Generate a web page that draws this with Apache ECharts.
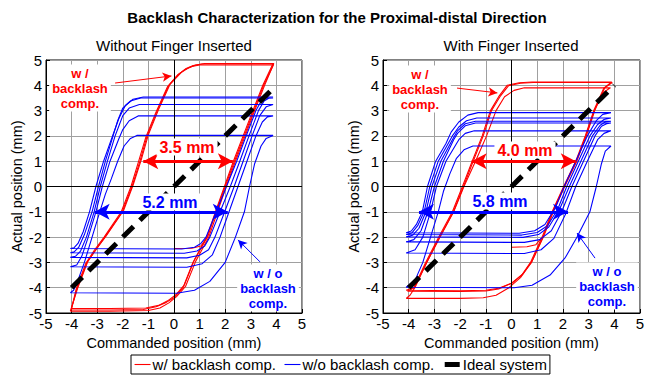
<!DOCTYPE html>
<html>
<head>
<meta charset="utf-8">
<script src="https://cdn.jsdelivr.net/npm/echarts@6/dist/echarts.min.js"></script>
<style>
  html, body { margin: 0; padding: 0; background: #fff; }
  #chart { width: 652px; height: 379px; }
</style>
</head>
<body>
<div id="chart"></div>
<script>
const FONT = '"Liberation Sans", Arial, sans-serif';
const RED = '#ff0000';
const BLUE = '#0000ff';
const NAME_RED = 'w/ backlash comp.';
const NAME_BLUE = 'w/o backlash comp.';
const NAME_IDEAL = 'Ideal system';

// ---- Without finger inserted (left) ----
const leftRedStart = [[0,-2.45],[0.7,-2.44],[1.05,-2.35],[1.3,-2.0]];
const leftRed1 = [[-4.02,-4.88],[-2.5,-4.88],[-1.2,-4.86],[-0.7,-4.75],[-0.3,-4.58],[0,-4.4],[0.35,-4.0],[0.74,-3.0],[1.28,-2.0],[1.62,-1.0],[1.97,0],[2.32,1],[2.7,2],[3.08,3],[3.47,4],[3.86,4.84],[2,4.84],[1.1,4.84],[0.75,4.78],[0.45,4.65],[0.2,4.45],[-0.2,4.0],[-0.65,3.0],[-1.05,2.0],[-1.33,1.0],[-1.64,0],[-2.02,-1.0],[-2.7,-2.0],[-3.05,-2.5],[-3.4,-3.0],[-3.78,-4.0],[-4.02,-4.88]];
const leftRed2 = [[-4.0,-4.82],[-2.5,-4.82],[-1.1,-4.8],[-0.6,-4.7],[-0.25,-4.52],[0.05,-4.3],[0.4,-3.9],[0.8,-2.9],[1.33,-1.95],[1.66,-0.95],[2.0,0],[2.36,1],[2.74,2],[3.12,3],[3.5,4],[3.88,4.8],[2,4.8],[1.0,4.8],[0.7,4.74],[0.4,4.6],[0.15,4.42],[-0.25,3.95],[-0.7,2.95],[-1.1,1.95],[-1.38,1.0],[-1.68,0],[-2.06,-1.0],[-2.73,-2.0],[-3.1,-2.5],[-3.45,-3.05],[-3.82,-4.05],[-4.0,-4.82]];
const leftRed3 = [[-4.05,-4.93],[-2.5,-4.93],[-1.0,-4.9],[-0.55,-4.8],[-0.2,-4.6],[0.1,-4.35],[0.45,-3.95],[0.85,-2.95],[1.36,-2.0],[1.7,-1.0],[2.04,0],[2.4,1],[2.78,2],[3.15,3],[3.54,4],[3.9,4.86],[2,4.86],[1.2,4.86],[0.85,4.8],[0.55,4.68],[0.28,4.5],[-0.15,4.05],[-0.6,3.05],[-1.0,2.05],[-1.28,1.05],[-1.6,0.05],[-1.97,-0.95],[-2.65,-1.95],[-3.02,-2.45],[-3.36,-2.95],[-3.74,-3.95],[-4.05,-4.93]];
const leftBlue1 = [[-4.05,-2.45],[-2,-2.46],[0.3,-2.47],[0.8,-2.4],[1.05,-2.25],[1.25,-2.0],[1.65,-1.0],[2.05,0],[2.45,1],[2.82,2],[3.2,3],[3.42,3.4],[3.62,3.53],[3.87,3.54],[1,3.54],[-1.2,3.54],[-1.6,3.45],[-1.9,3.2],[-2.15,2.7],[-2.4,2.0],[-2.75,1],[-3.05,0],[-3.3,-1],[-3.55,-1.8],[-3.75,-2.25],[-3.9,-2.42],[-4.05,-2.45]];
const leftBlue2 = [[-4.05,-2.62],[-2,-2.63],[0.4,-2.64],[0.9,-2.55],[1.2,-2.35],[1.4,-2.0],[1.8,-1],[2.2,0],[2.57,1],[2.93,2],[3.3,3],[3.52,3.38],[3.7,3.49],[3.87,3.5],[1,3.5],[-1.3,3.5],[-1.7,3.38],[-2.0,3.1],[-2.2,2.6],[-2.38,2.0],[-2.68,1],[-2.95,0],[-3.2,-1],[-3.5,-1.9],[-3.72,-2.4],[-3.9,-2.58],[-4.05,-2.62]];
const leftBlue3 = [[-4.05,-2.8],[-2,-2.81],[0.5,-2.82],[1.0,-2.72],[1.35,-2.5],[1.6,-2.0],[1.98,-1],[2.35,0],[2.7,1],[3.05,2],[3.35,2.8],[3.6,3.15],[3.87,3.24],[1,3.24],[-1.35,3.24],[-1.75,3.1],[-2.0,2.8],[-2.15,2.4],[-2.3,2.0],[-2.6,1],[-2.88,0],[-3.12,-1],[-3.42,-2.0],[-3.65,-2.55],[-3.85,-2.76],[-4.05,-2.8]];
const leftBlue4 = [[-4.05,-3.17],[-2,-3.18],[0.5,-3.19],[1.1,-3.05],[1.5,-2.7],[1.8,-2.0],[2.15,-1],[2.5,0],[2.85,1],[3.2,2],[3.45,2.55],[3.65,2.75],[3.87,2.79],[1,2.79],[-1.4,2.79],[-1.75,2.6],[-2.0,2.25],[-2.15,1.9],[-2.5,1],[-2.8,0],[-3.05,-1],[-3.35,-2.0],[-3.6,-2.75],[-3.8,-3.1],[-4.05,-3.17]];
const leftBlue5 = [[-4.05,-4.2],[-2,-4.21],[0.1,-4.22],[0.8,-4.1],[1.4,-3.75],[2.0,-3.0],[2.4,-2.0],[2.75,-1],[2.95,0],[3.15,0.9],[3.4,1.6],[3.6,1.9],[3.87,2.02],[1,2.02],[-1.45,2.02],[-1.7,1.9],[-1.95,1.6],[-2.2,1.0],[-2.45,0.3],[-2.68,-0.3],[-2.9,-1],[-3.2,-2.0],[-3.5,-3.0],[-3.75,-3.7],[-3.92,-4.1],[-4.05,-4.2]];

// ---- With finger inserted (right) ----
const rightRedStart = [[0,-2.4],[0.6,-2.38],[0.95,-2.3],[1.15,-2.05]];
const rightRed1 = [[-4.1,-4.1],[-2,-4.12],[-1.0,-4.1],[-0.5,-4.02],[0,-3.82],[0.4,-3.5],[0.74,-3.0],[1.19,-2.0],[1.58,-1.0],[2.03,0],[2.5,1],[2.87,2],[3.2,3],[3.6,3.9],[3.9,4.13],[2,4.13],[0.8,4.13],[0.3,4.1],[-0.17,4.0],[-0.5,3.55],[-0.82,3.0],[-1.14,2.0],[-1.53,1.0],[-1.91,0],[-2.3,-1.0],[-2.83,-2.0],[-3.34,-3.0],[-3.8,-4.0],[-4.1,-4.1]];
const rightRed2 = [[-4.1,-4.42],[-2,-4.42],[-1.1,-4.4],[-0.6,-4.3],[-0.1,-4.0],[0.35,-3.6],[0.8,-2.95],[1.24,-2.0],[1.63,-1.0],[2.07,0],[2.54,1],[2.91,2],[3.24,3],[3.63,3.9],[3.92,4.11],[2,4.11],[0.85,4.11],[0.35,4.08],[-0.12,3.98],[-0.45,3.55],[-0.78,3.0],[-1.1,2.0],[-1.49,1.0],[-1.87,0],[-2.26,-1.0],[-2.79,-2.0],[-3.3,-3.0],[-3.76,-4.0],[-3.95,-4.3],[-4.1,-4.42]];
const rightRed3 = [[-4.05,-4.14],[-2,-4.15],[-1.0,-4.13],[-0.5,-4.05],[0.05,-3.8],[0.45,-3.45],[0.78,-3.0],[1.22,-2.0],[1.6,-1.0],[2.05,0],[2.52,1],[2.9,2],[3.22,3],[3.55,3.7],[3.85,3.9],[2,3.9],[0.5,3.9],[0.1,3.8],[-0.27,3.55],[-0.6,3.0],[-0.97,2.0],[-1.4,1.0],[-1.85,0],[-2.25,-1.0],[-2.78,-2.0],[-3.3,-3.0],[-3.78,-4.0],[-4.05,-4.14]];
const rightBlue1 = [[-4.1,-1.83],[-2,-1.84],[0.3,-1.85],[0.9,-1.75],[1.3,-1.5],[1.7,-0.85],[2.05,0],[2.5,1],[2.95,2],[3.3,2.6],[3.55,2.85],[3.87,2.92],[1,2.92],[-1.3,2.92],[-1.7,2.82],[-2.05,2.55],[-2.35,2.15],[-2.55,1.7],[-2.95,1],[-3.27,0],[-3.47,-1],[-3.7,-1.5],[-3.9,-1.76],[-4.1,-1.83]];
const rightBlue2 = [[-4.1,-1.9],[-2,-1.91],[0.4,-1.92],[1.0,-1.82],[1.4,-1.55],[1.8,-0.9],[2.15,0],[2.6,1],[3.05,2],[3.35,2.45],[3.6,2.65],[3.87,2.71],[1,2.71],[-1.35,2.71],[-1.75,2.6],[-2.05,2.35],[-2.3,2.0],[-2.85,1],[-3.18,0],[-3.4,-1],[-3.65,-1.55],[-3.88,-1.84],[-4.1,-1.9]];
const rightBlue3 = [[-4.1,-1.99],[-2,-2.0],[0.45,-2.01],[1.05,-1.9],[1.45,-1.6],[1.85,-0.95],[2.25,0],[2.7,1],[3.15,2],[3.45,2.42],[3.65,2.55],[3.87,2.58],[1,2.58],[-1.4,2.58],[-1.8,2.48],[-2.1,2.2],[-2.3,1.85],[-2.75,1],[-3.1,0],[-3.33,-1],[-3.6,-1.65],[-3.85,-1.93],[-4.1,-1.99]];
const rightBlue4 = [[-4.1,-2.19],[-2,-2.2],[0.5,-2.21],[1.1,-2.1],[1.55,-1.75],[1.95,-1.0],[2.35,0],[2.8,1],[3.25,2],[3.5,2.38],[3.7,2.48],[3.87,2.51],[1,2.51],[-1.4,2.51],[-1.8,2.4],[-2.1,2.1],[-2.25,1.85],[-2.65,1],[-3.0,0],[-3.25,-1],[-3.52,-1.75],[-3.8,-2.1],[-4.1,-2.19]];
const rightBlue5 = [[-4.1,-2.63],[-2,-2.64],[0.5,-2.65],[1.15,-2.5],[1.65,-2.05],[2.1,-1.1],[2.5,0],[2.95,1],[3.35,1.85],[3.6,2.1],[3.87,2.2],[1,2.2],[-1.45,2.2],[-1.8,2.1],[-2.05,1.85],[-2.55,1],[-2.92,0],[-3.15,-1],[-3.45,-2.0],[-3.75,-2.5],[-4.1,-2.63]];
const rightBlue6 = [[-4.1,-3.98],[-2,-3.99],[0.1,-4.0],[0.8,-3.9],[1.5,-3.5],[2.1,-2.8],[2.55,-2.0],[3.05,-1.0],[3.3,0],[3.5,0.9],[3.65,1.4],[3.87,1.6],[1,1.6],[-1.5,1.6],[-1.85,1.45],[-2.15,1.1],[-2.4,0.5],[-2.65,-0.2],[-2.85,-1],[-3.15,-2.0],[-3.45,-3.0],[-3.75,-3.7],[-4.1,-3.98]];

// ideal system, same in both panels
const idealLine = [[-4,-4],[4,4]];

// annotation arrows (data units): [from, to]
const leftRedGap = [[-1.2,1],[2.3,1]];
const leftBlueGap = [[-3.1,-1],[2.1,-1]];
const rightRedGap = [[-1.55,1],[2.5,1]];
const rightBlueGap = [[-3.6,-1],[2.2,-1]];
const leftRedPointer = [[-2.3,4.09],[-0.1,4.37]];
const leftBluePointer = [[3.36,-2.98],[2.5,-2.11]];
const rightRedPointer = [[-2.12,3.89],[-0.55,3.70]];
const rightBluePointer = [[3.25,-2.83],[2.55,-1.84]];

const chart = echarts.init(document.getElementById('chart'), null, { renderer: 'svg' });

function loopSeries(data, name, color, gi) {
  return {
    type: 'line', name: name, data: data,
    xAxisIndex: gi, yAxisIndex: gi,
    symbol: 'none', silent: true, z: 2,
    lineStyle: { color: color, width: 1.1 },
    itemStyle: { color: color }
  };
}

function arrowSeries(gi, segs, color, width, symbols, size) {
  return {
    type: 'line', data: [], xAxisIndex: gi, yAxisIndex: gi, silent: true, z: 5,
    markLine: {
      silent: true, animation: false,
      symbol: symbols, symbolSize: size,
      label: { show: false },
      lineStyle: { color: color, width: width, type: 'solid' },
      data: segs.map(s => [{ coord: s[0] }, { coord: s[1] }])
    }
  };
}

function zeroLines(gi) {
  return {
    type: 'line', data: [], xAxisIndex: gi, yAxisIndex: gi, silent: true, z: 1,
    markLine: {
      silent: true, animation: false, symbol: 'none',
      label: { show: false },
      lineStyle: { color: '#000', width: 1, type: 'solid' },
      data: [{ xAxis: 0 }, { yAxis: 0 }]
    }
  };
}

const axisCommon = {
  type: 'value', min: -5, max: 5, interval: 1,
  axisLine: { show: true, onZero: false, lineStyle: { color: '#000', width: 1 } },
  axisTick: { show: true, inside: true, length: 4, lineStyle: { color: '#000' } },
  splitLine: { show: true, lineStyle: { color: '#a0a0a0', width: 1 } },
  axisLabel: { color: '#000', fontSize: 15, fontFamily: FONT },
  nameLocation: 'middle',
  nameTextStyle: { color: '#000', fontSize: 14.5, fontFamily: FONT }
};

function xAx(gi) {
  return Object.assign({}, axisCommon, {
    gridIndex: gi, name: 'Commanded position (mm)', nameGap: 16,
    axisLabel: Object.assign({}, axisCommon.axisLabel, { margin: 3 })
  });
}
function yAx(gi) {
  return Object.assign({}, axisCommon, {
    gridIndex: gi, name: 'Actual position (mm)', nameGap: 22,
    axisLabel: Object.assign({}, axisCommon.axisLabel, { margin: 4 })
  });
}

function txt(x, y, text, color, size, bold, boxed) {
  const style = {
    text: text, fill: color, align: 'center', verticalAlign: 'middle',
    font: (bold ? 'bold ' : '') + size + 'px ' + FONT, lineHeight: 15
  };
  if (boxed) {
    style.backgroundColor = '#fff';
    style.padding = [1, 3, 1, 3];
  }
  return { type: 'text', x: x, y: y, z: 100, silent: true, style: style };
}

const series = [
  zeroLines(0), zeroLines(1),
  loopSeries(leftRedStart, NAME_RED, RED, 0),
  loopSeries(leftRed1, NAME_RED, RED, 0),
  loopSeries(leftRed2, NAME_RED, RED, 0),
  loopSeries(leftRed3, NAME_RED, RED, 0),
  loopSeries(rightRedStart, NAME_RED, RED, 1),
  loopSeries(rightRed1, NAME_RED, RED, 1),
  loopSeries(rightRed2, NAME_RED, RED, 1),
  loopSeries(rightRed3, NAME_RED, RED, 1),
  loopSeries(leftBlue1, NAME_BLUE, BLUE, 0),
  loopSeries(leftBlue2, NAME_BLUE, BLUE, 0),
  loopSeries(leftBlue3, NAME_BLUE, BLUE, 0),
  loopSeries(leftBlue4, NAME_BLUE, BLUE, 0),
  loopSeries(leftBlue5, NAME_BLUE, BLUE, 0),
  loopSeries(rightBlue1, NAME_BLUE, BLUE, 1),
  loopSeries(rightBlue2, NAME_BLUE, BLUE, 1),
  loopSeries(rightBlue3, NAME_BLUE, BLUE, 1),
  loopSeries(rightBlue4, NAME_BLUE, BLUE, 1),
  loopSeries(rightBlue5, NAME_BLUE, BLUE, 1),
  loopSeries(rightBlue6, NAME_BLUE, BLUE, 1)
];
[0, 1].forEach(gi => {
  series.push({
    type: 'line', name: NAME_IDEAL, data: idealLine,
    xAxisIndex: gi, yAxisIndex: gi, symbol: 'none', silent: true, z: 4,
    lineStyle: { color: '#000', width: 5, type: [15, 9] },
    itemStyle: { color: '#000' }
  });
});
series.push(
  arrowSeries(0, [leftRedGap], RED, 3, ['arrow', 'arrow'], [12, 15]),
  arrowSeries(0, [leftBlueGap], BLUE, 3, ['arrow', 'arrow'], [12, 15]),
  arrowSeries(1, [rightRedGap], RED, 3, ['arrow', 'arrow'], [12, 15]),
  arrowSeries(1, [rightBlueGap], BLUE, 3, ['arrow', 'arrow'], [12, 15]),
  arrowSeries(0, [leftRedPointer], RED, 1, ['none', 'arrow'], [7, 9]),
  arrowSeries(0, [leftBluePointer], BLUE, 1, ['none', 'arrow'], [7, 9]),
  arrowSeries(1, [rightRedPointer], RED, 1, ['none', 'arrow'], [7, 9]),
  arrowSeries(1, [rightBluePointer], BLUE, 1, ['none', 'arrow'], [7, 9])
);

const option = {
  animation: false,
  backgroundColor: '#fff',
  grid: [
    { left: 46, top: 60, width: 256, height: 253, show: true, borderColor: '#000', borderWidth: 1, backgroundColor: 'transparent', outerBoundsMode: 'none', containLabel: false },
    { left: 383, top: 60, width: 257, height: 253, show: true, borderColor: '#000', borderWidth: 1, backgroundColor: 'transparent', outerBoundsMode: 'none', containLabel: false }
  ],
  xAxis: [xAx(0), xAx(1)],
  yAxis: [yAx(0), yAx(1)],
  legend: {
    data: [NAME_RED, NAME_BLUE, NAME_IDEAL],
    left: 131, top: 355,
    orient: 'horizontal',
    itemWidth: 16, itemHeight: 10, itemGap: 8,
    padding: [2, 3, 2, 3],
    borderColor: '#000', borderWidth: 1, borderRadius: 0,
    backgroundColor: '#fff',
    selectedMode: false,
    itemStyle: { opacity: 0 },
    lineStyle: { width: 'inherit', opacity: 1 },
    textStyle: { color: '#000', fontSize: 15, fontFamily: FONT, padding: [0, 0, 0, -3] }
  },
  graphic: [
    txt(337, 17, 'Backlash Characterization for the Proximal-distal Direction', '#000', 15, true, false),
    txt(174, 45, 'Without Finger Inserted', '#000', 15, false, false),
    txt(511, 45, 'With Finger Inserted', '#000', 15, false, false),
    txt(80, 88, 'w /\nbacklash\ncomp.', RED, 13, true, true),
    txt(187, 147, '3.5 mm', RED, 16, true, true),
    txt(170, 202, '5.2 mm', BLUE, 16, true, true),
    txt(268, 288, 'w / o\nbacklash\ncomp.', BLUE, 13, true, true),
    txt(420, 89, 'w /\nbacklash\ncomp.', RED, 13, true, true),
    txt(525, 150, '4.0 mm', RED, 16, true, true),
    txt(500, 201, '5.8 mm', BLUE, 16, true, true),
    txt(607, 286, 'w / o\nbacklash\ncomp.', BLUE, 13, true, true)
  ],
  series: series
};

chart.setOption(option);
</script>
</body>
</html>
